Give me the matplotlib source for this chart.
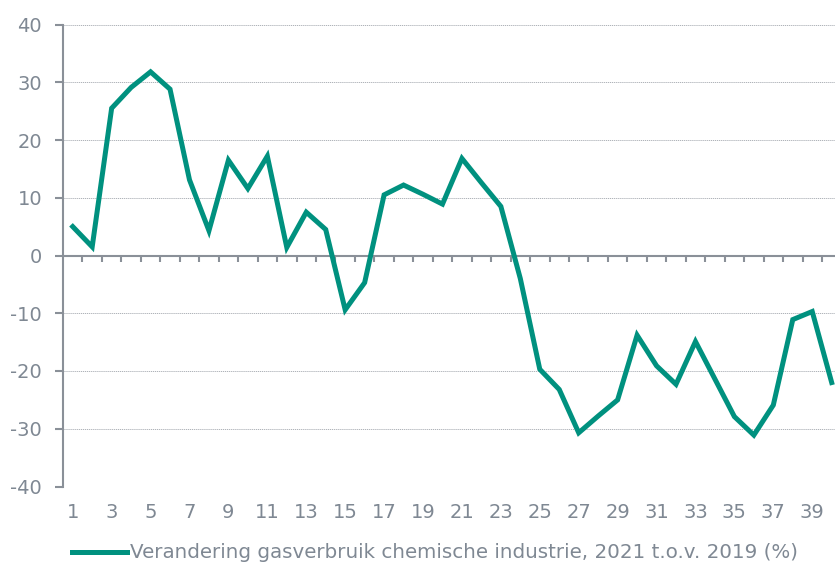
import matplotlib
matplotlib.use("Agg")
import matplotlib.pyplot as plt
from matplotlib.lines import Line2D

plt.rcParams['font.family'] = ['DejaVu Sans']
plt.rcParams['axes.unicode_minus'] = False

# week nummers en verandering gasverbruik (%)
weeks = list(range(1, 41))
change = [5.0, 1.5, 25.5, 29.1, 31.8, 28.8, 13.1, 4.3, 16.5, 11.6,
          17.2, 1.4, 7.5, 4.5, -9.4, -4.7, 10.5, 12.2, 10.6, 8.9,
          16.8, 12.6, 8.5, -4.0, -19.7, -23.2, -30.7, -27.8, -25.0, -13.8,
          -19.1, -22.3, -14.9, -21.4, -27.9, -31.1, -25.9, -11.1, -9.7, -22.0]
yticks = [-40, -30, -20, -10, 0, 10, 20, 30, 40]
label = "Verandering gasverbruik chemische industrie, 2021 t.o.v. 2019 (%)"

teal = '#00917f'
grey = '#7f8893'
axis_grey = '#8a9098'

fig = plt.figure(figsize=(8.35, 5.65), dpi=100)
ax = fig.add_axes([63/835, 1 - 486.5/565, (835 - 63)/835, (486.5 - 24.5)/565])

ax.plot(weeks, change, color=teal, lw=3.6, solid_joinstyle='miter', clip_on=False, zorder=5)

ax.set_xlim(0.5, 40.17)
ax.set_ylim(-40, 40)

# grid
for y in yticks:
    if y != 0:
        ax.axhline(y, color='#aeb2b8', lw=0.7, ls=(0, (1.2, 0.8)), zorder=1)
ax.axhline(0, color=axis_grey, lw=1.5, zorder=2)

for s in ['top', 'right', 'bottom']:
    ax.spines[s].set_visible(False)
ax.spines['left'].set_color(axis_grey)
ax.spines['left'].set_linewidth(1.5)

ax.set_yticks(yticks)
ax.tick_params(axis='y', colors=axis_grey, length=6, width=1.5, labelsize=14, labelcolor=grey, pad=9)

ax.set_xticks(weeks[::2])
ax.set_xticklabels([str(w) for w in weeks[::2]])
ax.tick_params(axis='x', length=0, labelsize=14, labelcolor=grey, pad=12)

# tick marks on the zero line between categories
sec = ax.secondary_xaxis(0.5)
sec.spines['bottom'].set_visible(False)
sec.spines['top'].set_visible(False)
sec.set_xticks([w + 0.5 for w in weeks])
sec.set_xticklabels([])
sec.tick_params(axis='x', direction='in', length=5, width=1.5, colors=axis_grey)

handle = Line2D([0], [0], color=teal, lw=3.6)
fig.legend([handle], [label], loc='center', bbox_to_anchor=(0.521, 1 - 553/565),
           frameon=False, fontsize=14.3, handlelength=2.75, handletextpad=0.15,
           borderpad=0, labelcolor=grey)

fig.savefig('out.png', dpi=100)
